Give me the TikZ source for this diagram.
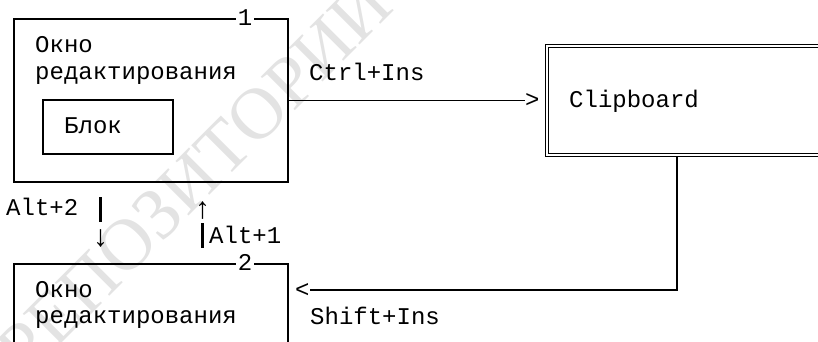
\documentclass[tikz,border=0pt]{standalone}
\usepackage{fontspec}
\setmainfont{Liberation Serif}
\newfontfamily\monofam{Liberation Mono}
\newfontfamily\wmfam{Liberation Serif}
\begin{document}
\begin{tikzpicture}[x=1pt,y=-1pt,
  txt/.style={font=\monofam\fontsize{24}{24}\selectfont, inner sep=0pt, anchor=base west},
  glyph/.style={font=\monofam\fontsize{24}{24}\selectfont, inner sep=0pt},
  arrowglyph/.style={font=\monofam\fontsize{30}{30}\selectfont, inner sep=0pt},
  frame/.style={draw, line width=1.6pt, inner sep=0pt},
  num/.style={font=\monofam\fontsize{24}{24}\selectfont, fill=white, inner ysep=0pt, inner xsep=2pt, anchor=base},
  conn/.style={line width=1.6pt},
  bar/.style={line width=3pt}
]
\useasboundingbox (0,0) rectangle (818,341);
% watermark
\node[rotate=45, font=\wmfam\fontsize{73}{73}\selectfont, text=black!11] (wm) at (190,172) {РЕПОЗИТОРИЙ};

% window 1
\node[frame, minimum width=274pt, minimum height=163pt] (w1) at (151,100.5) {};
\node[num] (n1) at (245,25) {1};
\node[txt] (w1a) at (35,52) {Окно};
\node[txt] (w1b) at (35,79) {редактирования};
\node[frame, minimum width=130pt, minimum height=54pt] (blk) at (108,127) {};
\node[txt] (blkt) at (64,133) {Блок};

% clipboard
\node[draw, double, double distance=2.4pt, line width=1.2pt, inner sep=0pt,
      minimum width=353pt, minimum height=109pt] (clip) at (723.5,100.5) {};
\node[txt] (clipt) at (569,107) {Clipboard};

% Ctrl+Ins
\node[txt] (ctrl) at (309,80) {Ctrl+Ins};
\node[glyph, anchor=west] (gt) at (525,100.5) {>};
\draw[conn] (w1.east) -- (gt.west);

% Shift+Ins
\coordinate (tap) at (677,156);
\node[glyph, anchor=west] (lt) at (295,290) {<};
\draw[conn] (tap) |- (lt.east);
\node[txt] (shift) at (310,324) {Shift+Ins};

% window 2
\node[frame, minimum width=274pt, minimum height=150pt] (w2) at (151,339) {};
\node[num] (n2) at (245,270) {2};
\node[txt] (w2a) at (35,297) {Окно};
\node[txt] (w2b) at (35,323) {редактирования};

% Alt+2 / Alt+1
\node[txt] (alt2) at (6,215) {Alt+2};
\coordinate (b2) at (100.5,197);
\draw[bar] (b2) -- ++(0,25);
\node[arrowglyph] (dn) at (100.5,239) {↓};
\node[arrowglyph] (up) at (202.5,211) {↑};
\coordinate (b1) at (202.5,223);
\draw[bar] (b1) -- ++(0,25);
\node[txt] (alt1) at (209,243) {Alt+1};
\end{tikzpicture}
\end{document}
